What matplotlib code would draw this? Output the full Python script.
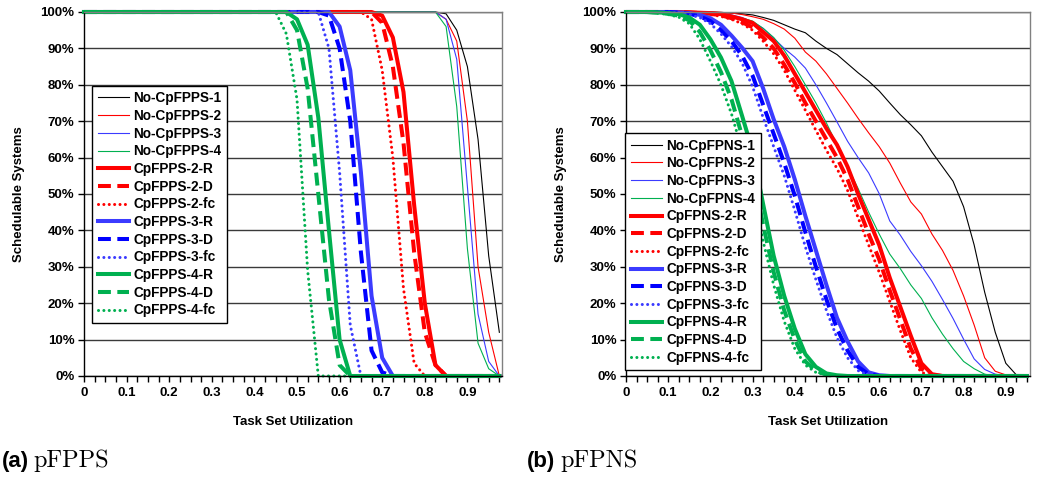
import numpy as np
import matplotlib
matplotlib.use('Agg')
import matplotlib.pyplot as plt
from matplotlib.ticker import MultipleLocator, FixedLocator, FuncFormatter

plt.rcParams['font.family'] = ['Liberation Sans', 'DejaVu Sans']
plt.rcParams['font.weight'] = 'bold'

# ---------------- data: (a) pFPPS ----------------
util_a = [round(0.025 * i, 3) for i in range(40)]          # 0 .. 0.975

no_cpfpps_1 = [100]*34 + [99.5, 95, 85, 65, 33, 12]
no_cpfpps_2 = [100]*34 + [98, 92, 70, 30, 12, 0]
no_cpfpps_3 = [100]*34 + [98, 87, 52, 17, 4, 0]
no_cpfpps_4 = [100]*34 + [96, 74, 35, 9, 2, 0]
cpfpps_2_r = [100]*28 + [99, 93, 78, 47, 20, 3, 0] + [0]*5
cpfpps_2_d = [100]*28 + [97, 85, 64, 34, 12, 3, 0] + [0]*5
cpfpps_2_fc = [100]*27 + [98, 84, 60, 24, 3.5, 0] + [0]*7
cpfpps_3_r = [100]*24 + [96, 84, 56, 22, 5, 0] + [0]*10
cpfpps_3_d = [100]*23 + [99, 90, 70, 34, 7, 1, 0] + [0]*10
cpfpps_3_fc = [100]*22 + [100, 90, 56, 14, 0] + [0]*13
cpfpps_4_r = [100]*20 + [98, 91, 71, 40, 10, 0] + [0]*14
cpfpps_4_d = [100]*20 + [95, 79, 50, 21, 3, 0] + [0]*14
cpfpps_4_fc = [100]*19 + [94, 76, 29, 0] + [0]*17

labels_a = ['No-CpFPPS-1', 'No-CpFPPS-2', 'No-CpFPPS-3', 'No-CpFPPS-4',
            'CpFPPS-2-R', 'CpFPPS-2-D', 'CpFPPS-2-fc',
            'CpFPPS-3-R', 'CpFPPS-3-D', 'CpFPPS-3-fc',
            'CpFPPS-4-R', 'CpFPPS-4-D', 'CpFPPS-4-fc']
series_a = [no_cpfpps_1, no_cpfpps_2, no_cpfpps_3, no_cpfpps_4,
            cpfpps_2_r, cpfpps_2_d, cpfpps_2_fc,
            cpfpps_3_r, cpfpps_3_d, cpfpps_3_fc,
            cpfpps_4_r, cpfpps_4_d, cpfpps_4_fc]

# ---------------- data: (b) pFPNS ----------------
util_b = [round(0.025 * i, 3) for i in range(39)]          # 0 .. 0.95

no_cpfpns_1 = [100]*9 + [99.9, 99.7, 99.5, 99.2, 98.5, 97.7, 96.5, 95.3, 94.3, 92,
                         90, 88.3, 85.8, 83.3, 81, 78.3, 75, 71.8, 69, 66,
                         61.5, 57.5, 53.5, 46.5, 36, 23, 12, 3.5, 0.3, 0]
no_cpfpns_2 = [100]*9 + [99.9, 99.7, 99.3, 98.7, 98, 96.8, 95.3, 92.8, 89, 86.5,
                         83, 79, 75, 70.8, 66.8, 63, 58.5, 53, 47.8, 44.5,
                         39, 34.5, 29, 22, 14, 5, 1.3, 0.3, 0, 0]
no_cpfpns_3 = [100]*6 + [100, 99.9, 99.8, 99.6, 99.2, 98.5, 97.3, 95.5, 92.8, 90,
                         87.6, 84.6, 80, 75, 69.8, 64.5, 60, 55.8, 50.1, 42.6,
                         38.7, 34.2, 30.3, 26, 21, 15.8, 10.1, 4.7, 1.8, 0.5,
                         0, 0, 0]
no_cpfpns_4 = [100]*6 + [100, 99.9, 99.8, 99.5, 99, 98.3, 97.5, 95.5, 93, 89.5,
                         85, 80, 75, 69.5, 63.5, 57.5, 51.5, 45, 39, 33.5,
                         29.5, 25, 21.3, 16, 11.5, 7.5, 4, 2, 0.5, 0,
                         0, 0, 0]
cpfpns_2_r = [100]*6 + [99.9, 99.8, 99.7, 99.4, 98.8, 98, 97, 94.5, 92, 88,
                        83, 78, 73, 68, 63.5, 57.5, 50, 43, 36, 27,
                        19, 11, 3.5, 0.5] + [0]*9
cpfpns_2_d = [100]*6 + [99.9, 99.7, 99.5, 99.1, 98.3, 97.2, 95.8, 93, 90, 85.5,
                        80.5, 75, 70, 65, 60, 54, 46.5, 39, 32, 23.5,
                        15.5, 7.5, 2, 0.2] + [0]*9
cpfpns_2_fc = [100]*6 + [99.9, 99.6, 99.3, 98.8, 98, 96.8, 95, 92, 88.5, 84,
                         78.5, 73, 67.5, 62, 57, 51, 43.5, 36, 28.5, 20.5,
                         12.5, 5, 1, 0] + [0]*9
cpfpns_3_r = [100]*4 + [100, 99.9, 99.7, 99.2, 98.3, 96.5, 93.5, 90.2, 86.5, 79,
                        70.5, 63, 54, 44, 34.5, 25, 16, 9.5, 4, 1,
                        0.2] + [0]*14
cpfpns_3_d = [100]*4 + [100, 99.8, 99.5, 98.8, 97.5, 95, 92, 88, 82.5, 74.5,
                        66.5, 58.5, 49.5, 39.5, 30, 21, 13, 7, 2.5, 0.5,
                        0] + [0]*14
cpfpns_3_fc = [100]*4 + [100, 99.7, 99.3, 98.5, 96.8, 94, 90.5, 86, 79.5, 71,
                         63, 55, 45.5, 35.5, 26.5, 18, 10.5, 5, 1.5, 0.2,
                         0] + [0]*14
cpfpns_4_r = [100]*2 + [100, 99.9, 99.7, 99.4, 98.5, 96.5, 92.5, 87.5, 81, 71.5,
                        61.8, 47.2, 33, 22, 13, 6, 2.5, 0.7, 0.2] + [0]*18
cpfpns_4_d = [100]*2 + [100, 99.8, 99.5, 99, 97.7, 94.5, 89.5, 83.5, 76, 66,
                        56, 41.5, 28.5, 18, 10, 4, 1.5, 0.3, 0] + [0]*18
cpfpns_4_fc = [100]*2 + [100, 99.7, 99.3, 98.6, 96.8, 92.5, 86.5, 80, 72, 62,
                         51.5, 37, 25, 15, 7.5, 3, 1, 0.2, 0] + [0]*18

labels_b = ['No-CpFPNS-1', 'No-CpFPNS-2', 'No-CpFPNS-3', 'No-CpFPNS-4',
            'CpFPNS-2-R', 'CpFPNS-2-D', 'CpFPNS-2-fc',
            'CpFPNS-3-R', 'CpFPNS-3-D', 'CpFPNS-3-fc',
            'CpFPNS-4-R', 'CpFPNS-4-D', 'CpFPNS-4-fc']
series_b = [no_cpfpns_1, no_cpfpns_2, no_cpfpns_3, no_cpfpns_4,
            cpfpns_2_r, cpfpns_2_d, cpfpns_2_fc,
            cpfpns_3_r, cpfpns_3_d, cpfpns_3_fc,
            cpfpns_4_r, cpfpns_4_d, cpfpns_4_fc]

y_ticks = list(range(0, 101, 10))
x_major = [0, 0.1, 0.2, 0.3, 0.4, 0.5, 0.6, 0.7, 0.8, 0.9]

# ---------------- styles ----------------
RED, BLUE, BLUE_D, GREEN, BLACK = '#FF0000', '#3B3BFF', '#0000FF', '#00B050', '#000000'
styles = [
    dict(color=BLACK, lw=0.8, ls='-'),
    dict(color=RED, lw=0.8, ls='-'),
    dict(color=BLUE, lw=0.8, ls='-'),
    dict(color=GREEN, lw=0.8, ls='-'),
    dict(color=RED, lw=2.9, ls='-'),
    dict(color=RED, lw=2.9, ls=(0, (3.2, 1.6))),
    dict(color=RED, lw=2.2, ls=(0, (0.01, 1.75))),
    dict(color=BLUE, lw=2.9, ls='-'),
    dict(color=BLUE_D, lw=2.9, ls=(0, (3.2, 1.6))),
    dict(color=BLUE, lw=2.2, ls=(0, (0.01, 1.75))),
    dict(color=GREEN, lw=2.9, ls='-'),
    dict(color=GREEN, lw=2.9, ls=(0, (3.2, 1.6))),
    dict(color=GREEN, lw=2.2, ls=(0, (0.01, 1.75))),
]

W, H = 1038, 478
fig = plt.figure(figsize=(W / 100, H / 100), dpi=100)


def make_axes(left_px, right_px, top_px, bottom_px):
    return fig.add_axes([left_px / W, (H - bottom_px) / H,
                         (right_px - left_px) / W, (bottom_px - top_px) / H])


def draw(ax, x, series, labels, xmax, leg_anchor):
    for y, lab, st in zip(series, labels, styles):
        dotted = isinstance(st['ls'], tuple) and st['ls'][1][0] < 0.1
        ax.plot(x, y, color=st['color'], lw=st['lw'], linestyle=st['ls'],
                dash_capstyle='round' if dotted else 'butt',
                solid_joinstyle='round', label=lab, clip_on=False)
    ax.set_xlim(0, xmax)
    ax.set_ylim(0, 100)
    ax.set_yticks(y_ticks)
    ax.yaxis.set_major_formatter(FuncFormatter(lambda v, p: f'{int(v)}%'))
    ax.xaxis.set_major_locator(FixedLocator(x_major))
    ax.xaxis.set_major_formatter(FuncFormatter(lambda v, p: '0' if v == 0 else f'{v:.1f}'))
    ax.xaxis.set_minor_locator(MultipleLocator(0.025))
    ax.grid(axis='y', color='#3a3a3a', lw=1.0)
    ax.set_axisbelow(True)
    ax.tick_params(axis='both', which='both', direction='out', length=4, width=1,
                   labelsize=9.5, colors='black')
    ax.tick_params(axis='x', pad=4)
    ax.tick_params(axis='y', pad=3, length=4)
    for sp in ('left', 'bottom'):
        ax.spines[sp].set_color('black')
        ax.spines[sp].set_linewidth(1.0)
    for sp in ('top', 'right'):
        ax.spines[sp].set_color('#808080')
        ax.spines[sp].set_linewidth(1.0)
    ax.set_ylabel('Schedulable Systems', fontsize=9.5, fontweight='bold')
    ax.set_xlabel('Task Set Utilization', fontsize=9.5, fontweight='bold')
    leg = ax.legend(loc='upper left', bbox_to_anchor=leg_anchor, borderaxespad=0,
                    fancybox=False, framealpha=1, edgecolor='black',
                    prop=dict(size=9.8, weight='bold'), labelspacing=0.27,
                    handlelength=2.3, handletextpad=0.3, borderpad=0.42)
    leg.get_frame().set_linewidth(1.0)
    return ax


ax1 = make_axes(84, 502, 12, 376)
draw(ax1, util_a, series_a, labels_a, 418 / 426, (0.019, 0.798))
ax1.yaxis.set_label_coords(-0.142, 0.5)
ax1.xaxis.set_label_coords(0.5, -0.11)

ax2 = make_axes(626, 1030, 12, 376)
draw(ax2, util_b, series_b, labels_b, 404 / 422, (-0.002, 0.668))
ax2.yaxis.set_label_coords(-0.147, 0.5)
ax2.xaxis.set_label_coords(0.5, -0.11)

# captions
cap_y = (H - 467) / H
fig.text(2 / W, cap_y, '(a)', fontsize=16, fontweight='bold', va='baseline',
         family=['Liberation Sans Narrow', 'Liberation Sans'])
fig.text(33 / W, cap_y, 'pFPPS', fontsize=17.5, fontweight='normal', va='baseline',
         family=['cmr10', 'DejaVu Serif'])
fig.text(527 / W, cap_y, '(b)', fontsize=16, fontweight='bold', va='baseline',
         family=['Liberation Sans Narrow', 'Liberation Sans'])
fig.text(560 / W, cap_y, 'pFPNS', fontsize=17.5, fontweight='normal', va='baseline',
         family=['cmr10', 'DejaVu Serif'])

fig.savefig('out.png', dpi=100)
